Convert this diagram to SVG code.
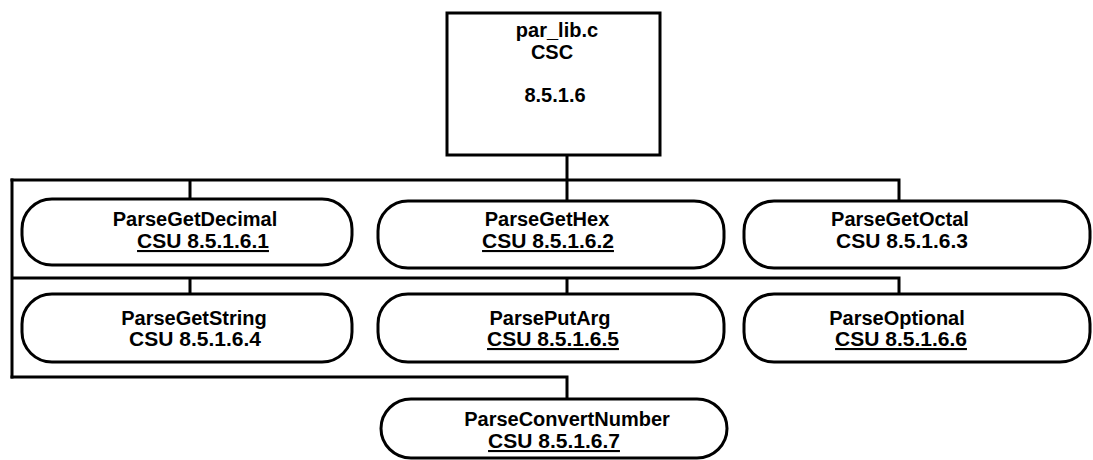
<svg xmlns="http://www.w3.org/2000/svg" width="1093" height="460" viewBox="0 0 1093 460">
<style>
.node{fill:#fff;stroke:#000;stroke-width:3}
.conn{fill:none;stroke:#000;stroke-width:3;stroke-linecap:square}
text{font-family:"Liberation Sans",Arial,sans-serif;font-weight:bold;font-size:20px;text-anchor:middle;fill:#000}
.c{font-size:21px}
.u{text-decoration:underline}
</style>
<rect width="1093" height="460" fill="#fff"/>
<g id="connectors">
<path class="conn" d="M567 155V180M12 180H899M190 180V199M567 180V201M899 180V201"/>
<path class="conn" d="M12 180V377M12 278H899M190 278V294M567 278V294M899 278V294"/>
<path class="conn" d="M12 377H567V399"/>
</g>
<g id="csc">
<rect class="node" x="447" y="13" width="213" height="142"/>
<text x="557" y="37">par_lib.c</text>
<text x="552" y="59">CSC</text>
<text x="555" y="102">8.5.1.6</text>
</g>
<g id="n1">
<rect class="node" x="22" y="199" width="330" height="66" rx="30" ry="30"/>
<text x="195" y="226">ParseGetDecimal</text>
<text x="203" y="248" class="c u">CSU 8.5.1.6.1</text>
</g>
<g id="n2">
<rect class="node" x="378" y="201" width="346" height="67" rx="30" ry="30"/>
<text x="547" y="226">ParseGetHex</text>
<text x="548" y="248" class="c u">CSU 8.5.1.6.2</text>
</g>
<g id="n3">
<rect class="node" x="744" y="201" width="346" height="67" rx="30" ry="30"/>
<text x="900" y="226">ParseGetOctal</text>
<text x="902" y="248" class="c">CSU 8.5.1.6.3</text>
</g>
<g id="n4">
<rect class="node" x="22" y="294" width="330" height="68" rx="30" ry="30"/>
<text x="194" y="325">ParseGetString</text>
<text x="195" y="346" class="c">CSU 8.5.1.6.4</text>
</g>
<g id="n5">
<rect class="node" x="378" y="294" width="346" height="68" rx="30" ry="30"/>
<text x="550" y="325">ParsePutArg</text>
<text x="553" y="346" class="c u">CSU 8.5.1.6.5</text>
</g>
<g id="n6">
<rect class="node" x="744" y="294" width="346" height="68" rx="30" ry="30"/>
<text x="897" y="325">ParseOptional</text>
<text x="901" y="346" class="c u">CSU 8.5.1.6.6</text>
</g>
<g id="n7">
<rect class="node" x="381" y="399" width="346" height="59" rx="30" ry="30"/>
<text x="567" y="426">ParseConvertNumber</text>
<text x="554" y="448" class="c u">CSU 8.5.1.6.7</text>
</g>
</svg>
